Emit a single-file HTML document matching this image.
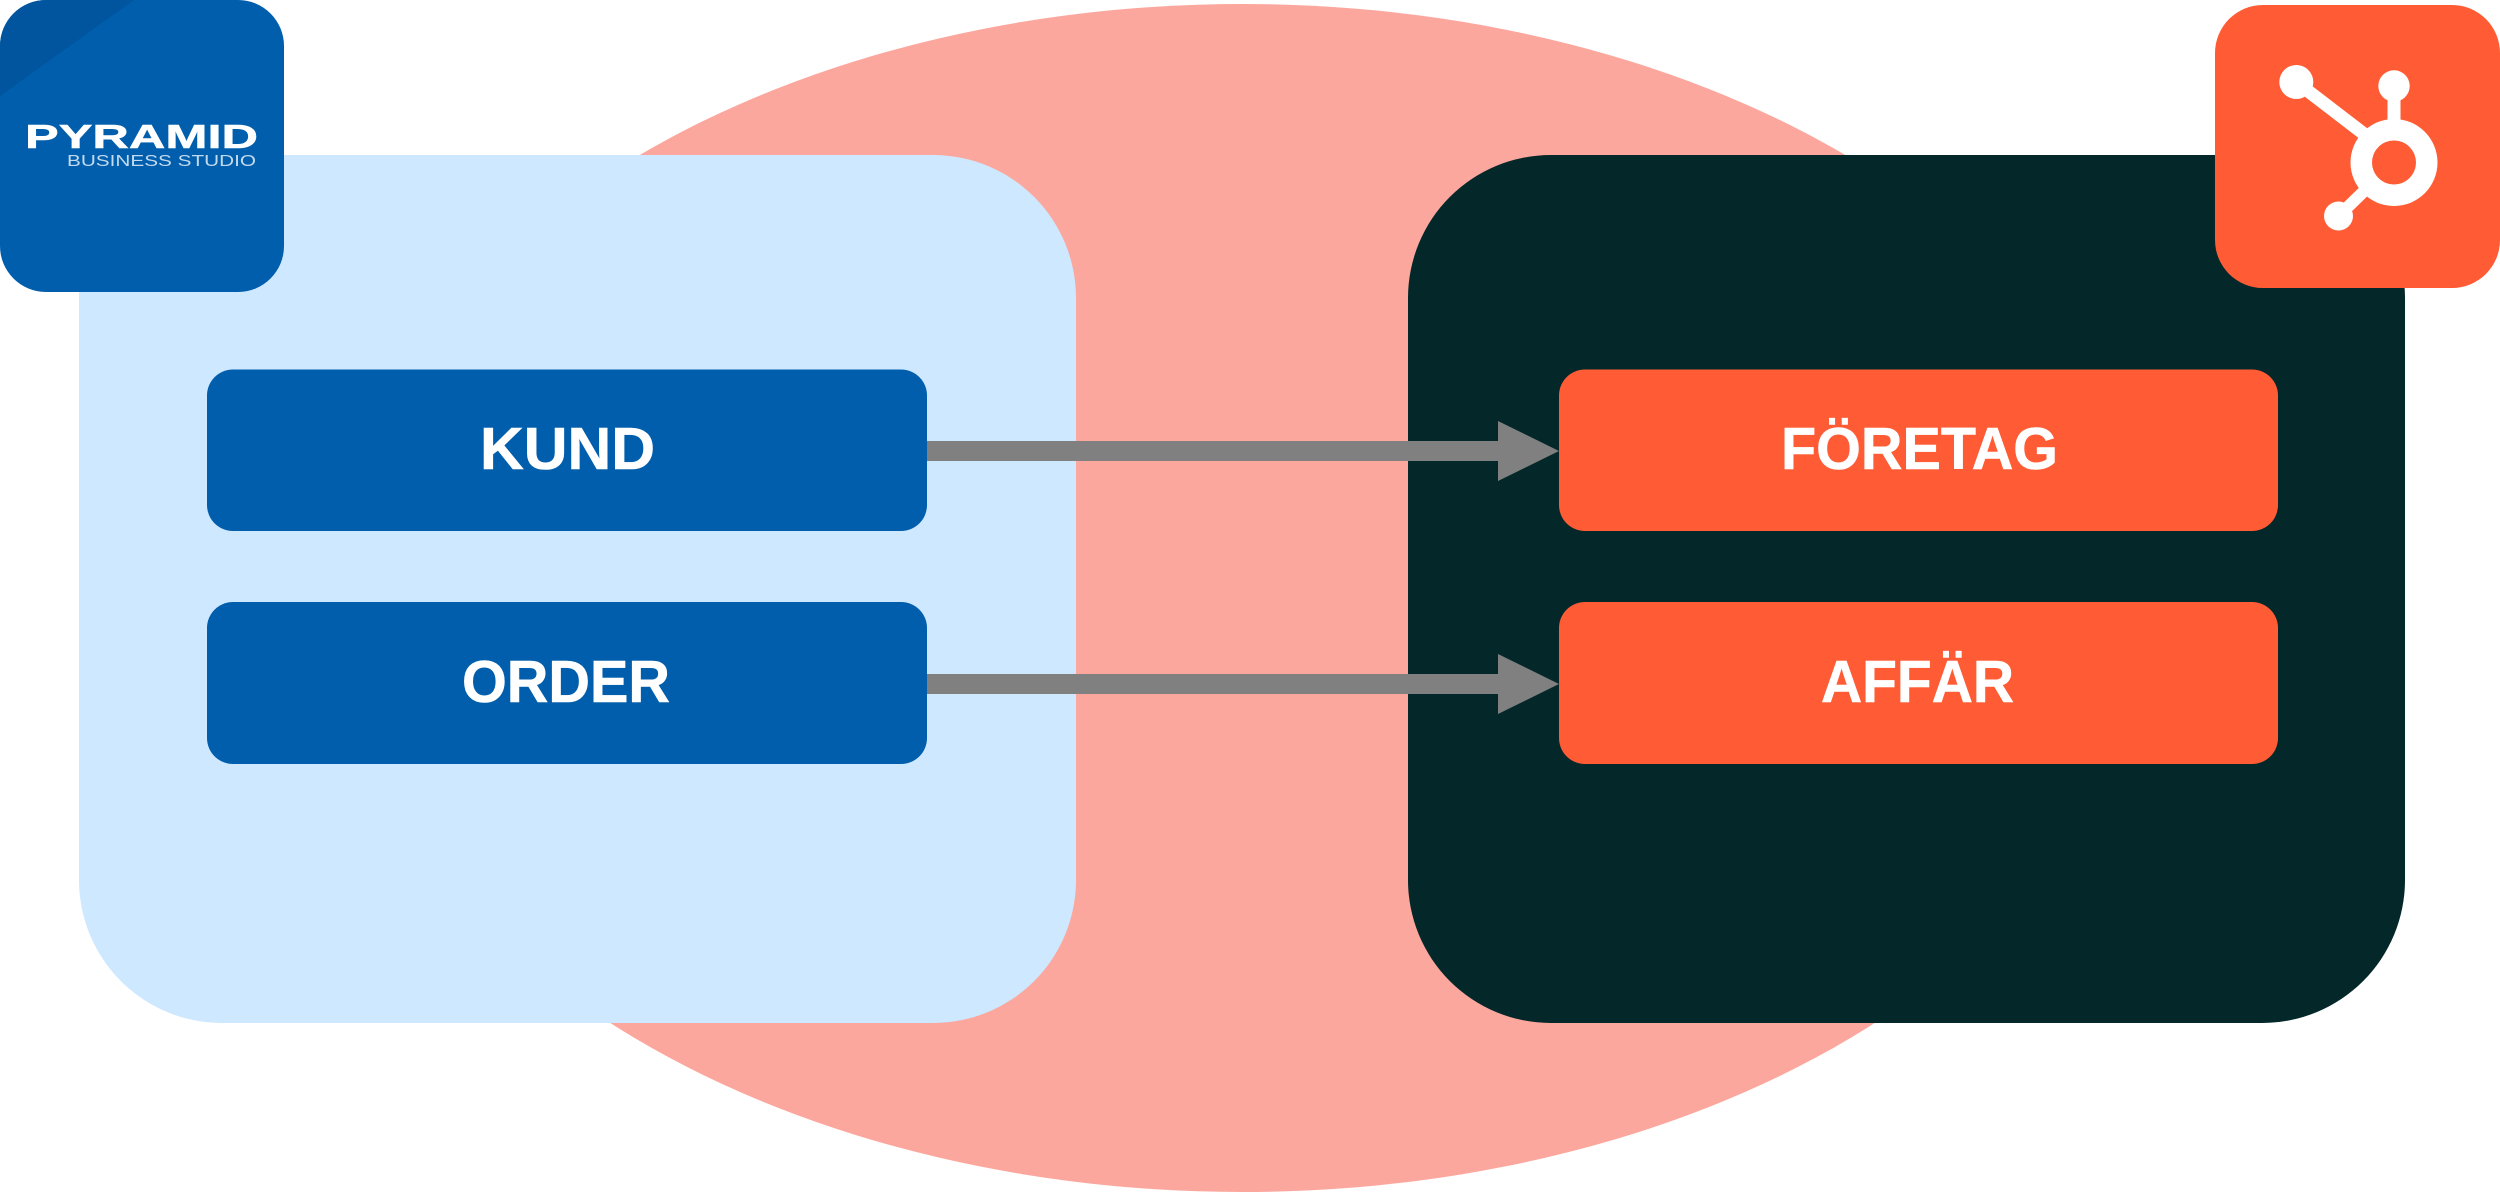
<!DOCTYPE html>
<html lang="sv">
<head>
<meta charset="utf-8">
<title>Pyramid Business Studio till HubSpot</title>
<style>
html,body{margin:0;padding:0;background:#fff;width:2500px;height:1192px;overflow:hidden}
svg{display:block}
text{font-family:"Liberation Sans",sans-serif}
.lbl{font-weight:700;font-size:59px;fill:#fff;stroke:#fff;stroke-width:.6}
</style>
</head>
<body>
<svg width="2500" height="1192" viewBox="0 0 2500 1192" xmlns="http://www.w3.org/2000/svg">
  <rect width="2500" height="1192" fill="#fff"/>
  <ellipse cx="1242.5" cy="598" rx="905" ry="594" fill="#FCA79D"/>

  <rect x="79" y="155" width="997" height="868" rx="143" ry="143" fill="#CEE8FF"/>
  <rect x="1408" y="155" width="997" height="868" rx="143" ry="143" fill="#04272A"/>

  <rect x="207" y="369.5" width="720" height="161.5" rx="26" ry="26" fill="#005EAC"/>
  <rect x="207" y="602" width="720" height="162" rx="26" ry="26" fill="#005EAC"/>
  <rect x="1559" y="369.5" width="719" height="161.5" rx="26" ry="26" fill="#FF5C35"/>
  <rect x="1559" y="602" width="719" height="162" rx="26" ry="26" fill="#FF5C35"/>

  <polygon points="927,441 1498,441 1498,421 1559,451 1498,481 1498,461 927,461" fill="#808080"/>
  <polygon points="927,674 1498,674 1498,654 1559,684 1498,714 1498,694 927,694" fill="#808080"/>

  <text class="lbl" x="480" y="469" textLength="175" lengthAdjust="spacingAndGlyphs">KUND</text>
  <text class="lbl" x="462" y="702" textLength="208" lengthAdjust="spacingAndGlyphs">ORDER</text>
  <text class="lbl" x="1781" y="469" textLength="277" lengthAdjust="spacingAndGlyphs">FÖRETAG</text>
  <text class="lbl" x="1821" y="702" textLength="193" lengthAdjust="spacingAndGlyphs">AFFÄR</text>

  <!-- Pyramid logo -->
  <clipPath id="pc"><rect x="0" y="0" width="284" height="292" rx="46" ry="46"/></clipPath>
  <g clip-path="url(#pc)">
    <rect x="0" y="0" width="284" height="292" fill="#005EAC"/>
    <polygon points="0,0 134,0 0,96" fill="#00559E"/>
  </g>
  <text x="25" y="148" font-size="33" font-weight="700" fill="#fff" stroke="#fff" stroke-width=".5" textLength="233" lengthAdjust="spacingAndGlyphs">PYRAMID</text>
  <text x="67" y="166" font-size="16" fill="#C3DAEE" textLength="189" lengthAdjust="spacingAndGlyphs">BUSINESS STUDIO</text>

  <!-- HubSpot logo -->
  <path d="M2215 53a48 48 0 0 1 48-48H2452a48 48 0 0 1 48 48V240a48 48 0 0 1-48 48H2263a48 48 0 0 1-48-48Z" fill="#FF5C35"/>
  <g fill="#fff" stroke="none">
    <circle cx="2296.3" cy="82" r="17"/>
    <circle cx="2394" cy="86" r="15.7"/>
    <circle cx="2338.5" cy="216" r="14.5"/>
  </g>
  <g stroke="#fff" fill="none">
    <line x1="2296.3" y1="82" x2="2394" y2="157" stroke-width="13" />
    <line x1="2394" y1="86" x2="2394" y2="162" stroke-width="13"/>
    <line x1="2338.5" y1="216" x2="2394" y2="162" stroke-width="12"/>
  </g>
  <circle cx="2394" cy="162.5" r="43.5" fill="#fff"/>
  <circle cx="2394" cy="162.5" r="22" fill="#FF5C35"/>
</svg>
</body>
</html>
